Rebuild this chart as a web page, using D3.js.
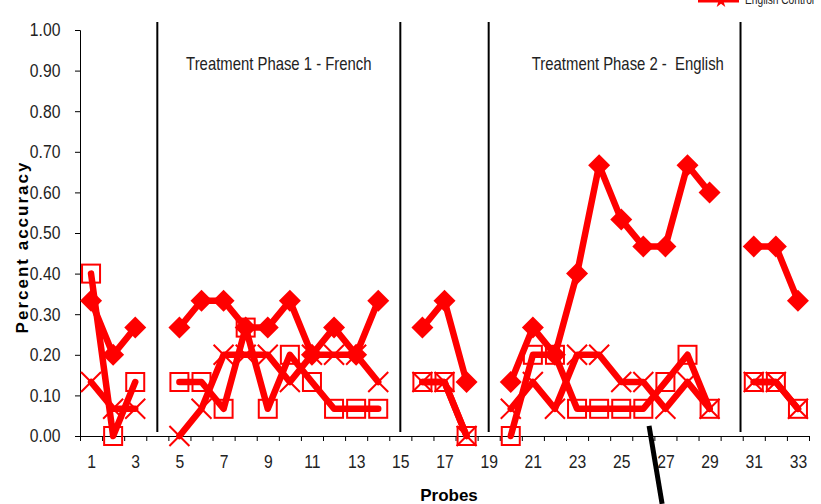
<!DOCTYPE html>
<html>
<head>
<meta charset="utf-8">
<script src="https://cdn.jsdelivr.net/npm/d3@7"></script>
<style>
  html, body { margin: 0; padding: 0; background: #fff; }
  svg { display: block; font-family: "Liberation Sans", Arial, sans-serif; }
</style>
</head>
<body>
<svg id="chart" width="821" height="504"></svg>
<script>
// Probes (x categories) and per-phase series; null = no probe in that gap
const probes = d3.range(1, 34);
const xTickLabels = probes.filter(p => p % 2 === 1);
const yTickValues = d3.range(0, 1.0001, 0.1);

// Filled diamonds
const diamondSeries = [
  0.333, 0.200, 0.267, null,
  0.267, 0.333, 0.333, 0.267, 0.267, 0.333, 0.200, 0.267, 0.200, 0.333,
  null, 0.267, 0.333, 0.133, null,
  0.133, 0.267, 0.200, 0.400, 0.667, 0.533, 0.467, 0.467, 0.667, 0.600,
  null, 0.467, 0.467, 0.333
];
// Open squares
const squareSeries = [
  0.400, 0.000, 0.133, null,
  0.133, 0.133, 0.067, 0.267, 0.067, 0.200, 0.133, 0.067, 0.067, 0.067,
  null, 0.133, 0.133, 0.000, null,
  0.000, 0.200, 0.200, 0.067, 0.067, 0.067, 0.067, 0.133, 0.200, 0.067,
  null, 0.133, 0.133, 0.067
];
// Crosses
const crossSeries = [
  0.133, 0.067, 0.067, null,
  0.000, 0.067, 0.200, 0.200, 0.200, 0.133, 0.200, 0.200, 0.200, 0.133,
  null, 0.133, 0.133, 0.000, null,
  0.067, 0.133, 0.067, 0.200, 0.200, 0.133, 0.133, 0.067, 0.133, 0.067,
  null, 0.133, 0.133, 0.067
];

// Phase dividers (probe position) and phase titles
const phaseDividers = [4, 15, 19, 30.4];
const phaseTitles = [
  { text: "Treatment Phase 1 - French", probe: 9.5 },
  { text: "Treatment Phase 2 -  English", probe: 25.3 }
];
// Stray pen stroke near the axis, in data units
const penStroke = [[26.26, 0.025], [26.85, -0.167]];

const RED = "#ff0000";
const CONDENSE = "scale(0.85,1)";   // narrow lettering
const svg = d3.select("#chart");

const x = d3.scaleLinear().domain([0.5, 33.5]).range([80, 809]);
const y = d3.scaleLinear().domain([0, 1]).range([436, 30]);

// Y axis
const yAxis = svg.append("g")
  .attr("transform", `translate(${x(0.5)},0)`)
  .call(d3.axisLeft(y).tickValues(yTickValues).tickFormat(d3.format(".2f"))
    .tickSize(5).tickPadding(18));
yAxis.select(".domain").attr("stroke", "#000").attr("stroke-width", 1);
yAxis.selectAll("text").attr("font-size", 18.5).attr("fill", "#222").attr("transform", CONDENSE);

// X axis: tick marks at probe boundaries, labels on odd probes
const xAxis = svg.append("g")
  .attr("transform", `translate(0,${y(0)})`)
  .call(d3.axisBottom(x).tickValues(d3.range(0.5, 33.6, 1)).tickFormat("").tickSize(5).tickSizeOuter(0));
xAxis.select(".domain").attr("stroke", "#000");
const xLabels = svg.append("g")
  .attr("transform", `translate(0,${y(0)})`)
  .call(d3.axisBottom(x).tickValues(xTickLabels).tickFormat(d3.format("d")).tickSize(0).tickPadding(19));
xLabels.select(".domain").remove();
xLabels.selectAll("text").attr("font-size", 18.5).attr("fill", "#222").attr("transform", CONDENSE);

// Phase divider lines
svg.append("g").selectAll("line").data(phaseDividers).join("line")
  .attr("x1", d => x(d)).attr("x2", d => x(d))
  .attr("y1", y(1.02)).attr("y2", y(0.01))
  .attr("stroke", "#000").attr("stroke-width", 2);

svg.append("g").selectAll("g").data(phaseTitles).join("g")
  .attr("transform", d => `translate(${x(d.probe)},70)`)
  .append("text")
  .attr("transform", CONDENSE)
  .attr("text-anchor", "middle").attr("font-size", 17.5).attr("fill", "#222")
  .style("white-space", "pre")
  .text(d => d.text);

// Axis titles
svg.append("text")
  .attr("x", 449).attr("y", 501)
  .attr("text-anchor", "middle").attr("font-size", 17).attr("font-weight", "bold")
  .text("Probes");
svg.append("text")
  .attr("transform", "translate(28,247) rotate(-90)")
  .attr("text-anchor", "middle").attr("font-size", 17).attr("font-weight", "bold")
  .attr("letter-spacing", 2)
  .text("Percent accuracy");

// Series lines and markers
const line = d3.line()
  .defined(d => d.v !== null)
  .x(d => x(d.p)).y(d => y(d.v));

function points(values) {
  return values.map((v, i) => ({ p: probes[i], v }));
}

function drawSeries(values, marker) {
  const pts = points(values);
  const g = svg.append("g");
  g.append("path").datum(pts)
    .attr("d", line)
    .attr("fill", "none").attr("stroke", RED)
    .attr("stroke-width", 6.5).attr("stroke-linejoin", "round").attr("stroke-linecap", "round");
  const m = g.selectAll("g.m").data(pts.filter(d => d.v !== null)).join("g")
    .attr("transform", d => `translate(${x(d.p)},${y(d.v)})`);
  marker(m);
}

drawSeries(crossSeries, m => {
  m.append("path").attr("d", "M-10,-10L10,10M-10,10L10,-10")
    .attr("stroke", RED).attr("stroke-width", 2).attr("fill", "none");
});
drawSeries(squareSeries, m => {
  m.append("rect").attr("x", -9).attr("y", -9).attr("width", 18).attr("height", 18)
    .attr("fill", "none").attr("stroke", RED).attr("stroke-width", 2);
});
drawSeries(diamondSeries, m => {
  m.append("path").attr("d", "M0,-11L11,0L0,11L-11,0Z").attr("fill", RED);
});

// Pen stroke
svg.append("line")
  .attr("x1", x(penStroke[0][0])).attr("y1", y(penStroke[0][1]))
  .attr("x2", x(penStroke[1][0])).attr("y2", y(penStroke[1][1]))
  .attr("stroke", "#000").attr("stroke-width", 5);

// Legend entry (runs off the top edge)
const legend = svg.append("g");
legend.append("line").attr("x1", 698).attr("x2", 739).attr("y1", 1).attr("y2", 1)
  .attr("stroke", RED).attr("stroke-width", 3);
legend.append("path").attr("transform", "translate(721,1)")
  .attr("d", d3.symbol(d3.symbolStar, 60)).attr("fill", RED);
legend.append("g").attr("transform", "translate(745,4)")
  .append("text").attr("transform", CONDENSE).attr("font-size", 12).attr("fill", "#222")
  .text("English Control");
</script>
</body>
</html>
